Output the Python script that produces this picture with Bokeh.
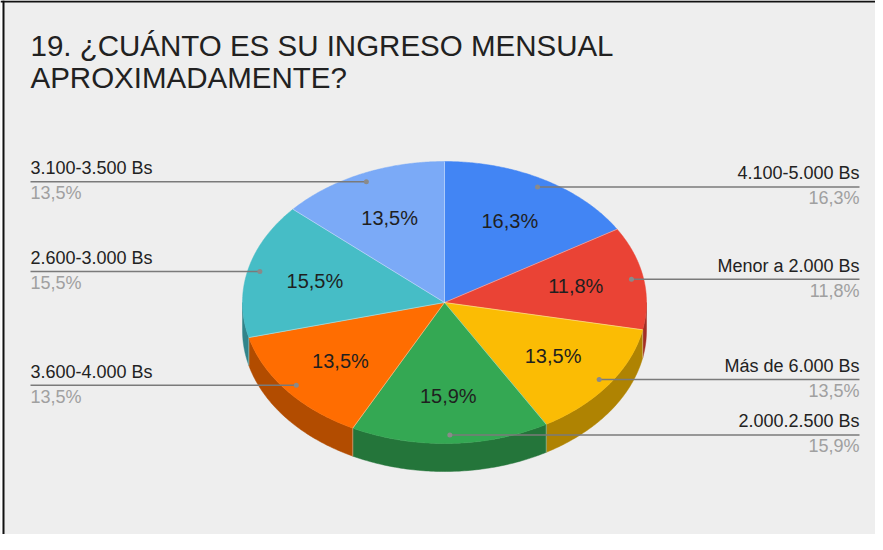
import numpy as np
from bokeh.plotting import figure
from bokeh.models import Range1d, ColumnDataSource, Span
from bokeh.core.properties import value
from bokeh.embed import file_html
from bokeh.resources import INLINE

# ---------------- data ----------------
title_lines = ["19. ¿CUÁNTO ES SU INGRESO MENSUAL", "APROXIMADAMENTE?"]
categories = ["4.100-5.000 Bs", "Menor a 2.000 Bs", "Más de 6.000 Bs",
              "2.000.2.500 Bs", "3.600-4.000 Bs", "2.600-3.000 Bs", "3.100-3.500 Bs"]
percents = [16.3, 11.8, 13.5, 15.9, 13.5, 15.5, 13.5]
colors = ["#4285f4", "#ea4335", "#fbbc04", "#34a853", "#ff6d01", "#46bdc6", "#7baaf7"]

# ---------------- layout / style ----------------
W, H = 875, 534
CX, CY = 444, 302          # centre of top face (px)
RX, RY = 202, 141          # radii of top face
DEPTH = 28                 # thickness of the 3-D pie
DOT_R = 0.94               # radius fraction of leader dots
LBL_R = 0.66               # radius fraction of in-slice labels
LEFT_X, RIGHT_X = 30, 859
FONT = "Liberation Sans"


def darken(hexc, f=0.7):
    h = hexc.lstrip("#")
    r, g, b = (int(h[i:i + 2], 16) for i in (0, 2, 4))
    return "#%02x%02x%02x" % (int(r * f), int(g * f), int(b * f))


def ex(t):
    return CX + RX * np.sin(t)


def ey(t):
    return CY - RY * np.cos(t)


fmt = lambda v: ("%.1f%%" % v).replace(".", ",")

p = figure(width=W, height=H, x_range=Range1d(0, W), y_range=Range1d(H, 0),
           output_backend="svg", toolbar_location=None, min_border=0,
           x_axis_type=None, y_axis_type=None)
p.grid.visible = False
p.outline_line_color = None
p.background_fill_color = "#eeeeee"
p.border_fill_color = "#eeeeee"

# frame (left white strip + black border lines)
p.quad(left=[0], right=[2], top=[0], bottom=[H], fill_color="white", line_color=None)
p.add_layout(Span(location=3, dimension="height", line_color="#111111", line_width=2))
p.add_layout(Span(location=1, dimension="width", line_color="#111111", line_width=2))

# angles
tot = sum(percents)
fr = np.array(percents) / tot
ends = np.cumsum(fr) * 2 * np.pi
starts = ends - fr * 2 * np.pi
mids = (starts + ends) / 2

# side walls
sx, sy, sc = [], [], []
for a, b, c in zip(starts, ends, colors):
    lo, hi = max(a, np.pi / 2), min(b, 3 * np.pi / 2)
    if hi <= lo:
        continue
    t = np.linspace(lo, hi, 80)
    xs = list(ex(t)) + list(ex(t[::-1]))
    ys = list(ey(t)) + list(ey(t[::-1]) + DEPTH)
    sx.append(xs)
    sy.append(ys)
    sc.append(darken(c))
p.patches(xs=sx, ys=sy, fill_color=sc, line_color=sc, line_width=0.5)

# vertical edges on the side at slice boundaries
vx, vy0 = [], []
for a in starts:
    if np.pi / 2 < a < 3 * np.pi / 2:
        vx.append(ex(a))
        vy0.append(ey(a))
p.segment(x0=vx, y0=vy0, x1=vx, y1=[v + DEPTH for v in vy0],
          line_color="white", line_alpha=0.35, line_width=1)

# top faces
tx, ty = [], []
for a, b in zip(starts, ends):
    t = np.linspace(a, b, 120)
    tx.append([CX] + list(ex(t)))
    ty.append([CY] + list(ey(t)))
p.patches(xs=tx, ys=ty, fill_color=colors, line_color=colors, line_width=0.5)
p.segment(x0=[CX] * len(starts), y0=[CY] * len(starts), x1=list(ex(starts)), y1=list(ey(starts)),
          line_color="white", line_alpha=0.4, line_width=1)

# in-slice percentage labels
p.text(x=list(CX + LBL_R * RX * np.sin(mids)), y=list(CY - LBL_R * RY * np.cos(mids)),
       text=[fmt(v) for v in percents], text_font=value(FONT), text_font_size=value("20px"),
       text_color="#1f1f1f", text_align="center", text_baseline="middle")

# leader lines + outside labels
dx = CX + DOT_R * RX * np.sin(mids)
dy = CY - DOT_R * RY * np.cos(mids)
left = mids > np.pi
lx0 = [LEFT_X if l else x for l, x in zip(left, dx)]
lx1 = [x if l else RIGHT_X for l, x in zip(left, dx)]
p.segment(x0=lx0, y0=list(dy), x1=lx1, y1=list(dy), line_color="#7a7a7a", line_width=1.5)
p.scatter(x=list(dx), y=list(dy), size=5, fill_color="#8a8a8a", line_color=None)

for side, xpos, align in ((True, LEFT_X, "left"), (False, RIGHT_X, "right")):
    idx = [i for i in range(len(categories)) if bool(left[i]) == side]
    src = ColumnDataSource(dict(
        x=[xpos] * len(idx),
        yc=[dy[i] - 13.5 for i in idx],
        yp=[dy[i] + 11.5 for i in idx],
        cat=[categories[i] for i in idx],
        pct=[fmt(percents[i]) for i in idx]))
    p.text(x="x", y="yc", text="cat", source=src, text_font=value(FONT),
           text_font_size=value("18px"), text_color="#222222",
           text_align=align, text_baseline="middle")
    p.text(x="x", y="yp", text="pct", source=src, text_font=value(FONT),
           text_font_size=value("18px"), text_color="#a0a0a0",
           text_align=align, text_baseline="middle")

# title
p.text(x=[LEFT_X] * 2, y=[45, 76.5], text=title_lines, text_font=value(FONT),
       text_font_size=value("29.5px"), text_color="#212121",
       text_align="left", text_baseline="middle")

open("out.html", "w").write(file_html(p, INLINE))
